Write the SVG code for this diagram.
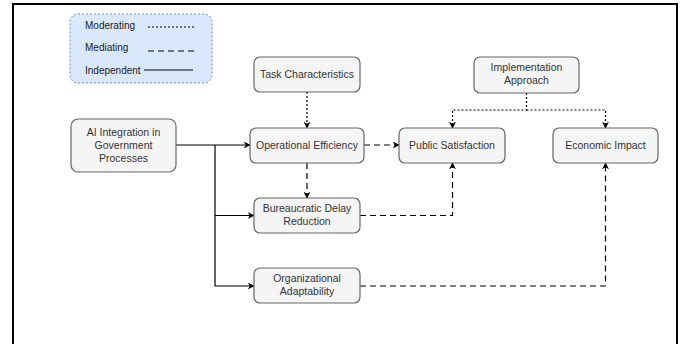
<svg xmlns="http://www.w3.org/2000/svg" width="682" height="344" viewBox="0 0 682 344">
<defs>
<style>
.node rect{fill:#f5f5f5;stroke:#666666;stroke-width:1.2}
.node text,.legend text{font-family:"Liberation Sans",Arial,sans-serif;font-size:10.5px;fill:#333333;text-anchor:middle}
.legend text{text-anchor:start;fill:#222222;font-size:10px}
.c{fill:none;stroke:#000000;stroke-width:1.2}
.mod{stroke-dasharray:2 2}
.med{stroke-dasharray:6 4}
</style>
<marker id="ah" viewBox="0 0 10 10" refX="9" refY="5" markerWidth="7" markerHeight="7" orient="auto" markerUnits="userSpaceOnUse">
<path d="M0,0 L10,5 L0,10 L3,5 Z" fill="#000000"/>
</marker>
</defs>
<rect x="0" y="0" width="682" height="344" fill="#ffffff"/>
<path d="M13,350 V4 H677 V350" fill="none" stroke="#000000" stroke-width="2"/>
<g id="legend" class="legend">
<rect x="70" y="14" width="142" height="69" rx="8" fill="#dae8fc" stroke="#6c8ebf" stroke-width="1" stroke-dasharray="2 2"/>
<text x="85" y="29">Moderating</text>
<text x="85" y="51">Mediating</text>
<text x="85" y="74">Independent</text>
<line x1="148" y1="27" x2="194" y2="27" class="c mod"/>
<line x1="148" y1="51" x2="194" y2="51" class="c med"/>
<line x1="144" y1="70" x2="193" y2="70" class="c"/>
</g>
<g id="connectors">
<line x1="176" y1="145" x2="250" y2="145" class="c" marker-end="url(#ah)"/>
<path d="M215,145 V286 H254" class="c" marker-end="url(#ah)"/>
<line x1="215" y1="215.5" x2="254" y2="215.5" class="c" marker-end="url(#ah)"/>
<line x1="307" y1="92" x2="307" y2="128" class="c mod" marker-end="url(#ah)"/>
<line x1="307" y1="163" x2="307" y2="198" class="c med" marker-end="url(#ah)"/>
<line x1="364" y1="145" x2="399" y2="145" class="c med" marker-end="url(#ah)"/>
<path d="M526.5,93 V110 H452.5 V128" class="c mod" marker-end="url(#ah)"/>
<path d="M526.5,110 H605.5 V128" class="c mod" marker-end="url(#ah)"/>
<path d="M360,215.5 H452.5 V163" class="c med" marker-end="url(#ah)"/>
<path d="M360,286 H605.5 V163" class="c med" marker-end="url(#ah)"/>
</g>
<g id="ai" class="node">
<rect x="71" y="119" width="105" height="53" rx="7"/>
<text x="123.5" y="136">AI Integration in</text>
<text x="123.5" y="149">Government</text>
<text x="123.5" y="162">Processes</text>
</g>
<g id="task" class="node">
<rect x="254" y="57" width="106" height="35" rx="6"/>
<text x="307" y="78">Task Characteristics</text>
</g>
<g id="opeff" class="node">
<rect x="250" y="128" width="114" height="35" rx="6"/>
<text x="307" y="149">Operational Efficiency</text>
</g>
<g id="bureau" class="node">
<rect x="254" y="198" width="106" height="35" rx="6"/>
<text x="307" y="212">Bureaucratic Delay</text>
<text x="307" y="225">Reduction</text>
</g>
<g id="org" class="node">
<rect x="254" y="268" width="106" height="35" rx="6"/>
<text x="307" y="282">Organizational</text>
<text x="307" y="295">Adaptability</text>
</g>
<g id="impl" class="node">
<rect x="474" y="57" width="105" height="36" rx="6"/>
<text x="526.5" y="71">Implementation</text>
<text x="526.5" y="84">Approach</text>
</g>
<g id="public" class="node">
<rect x="399" y="128" width="106" height="35" rx="6"/>
<text x="452" y="149">Public Satisfaction</text>
</g>
<g id="econ" class="node">
<rect x="553" y="128" width="105" height="35" rx="6"/>
<text x="605.5" y="149">Economic Impact</text>
</g>
</svg>
